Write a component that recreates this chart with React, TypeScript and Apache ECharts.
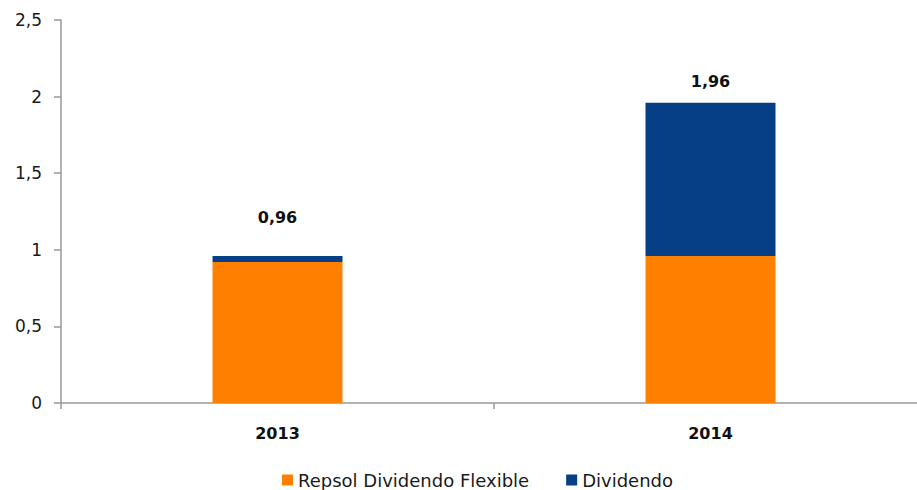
import React, { useEffect, useRef } from "react";
import * as echarts from "echarts";

const categories = ["2013", "2014"];
const flexibleValues = [0.92, 0.96];
const dividendValues = [0.04, 1.0];
const totalLabels = ["0,96", "1,96"];
const labelDistances = [30, 13];
const seriesNames = ["Repsol Dividendo Flexible", "Dividendo"];

const FONT = "'DejaVu Sans', Verdana, sans-serif";

export default function App() {
  const ref = useRef<HTMLDivElement>(null);
  useEffect(() => {
    document.body.style.overflow = "hidden";
    const chart = echarts.init(ref.current!, null, { renderer: "svg" });
    chart.setOption({
      animation: false,
      textStyle: { fontFamily: FONT },
      grid: { left: 61, top: 20, bottom: 87, right: 13 },
      legend: {
        left: 277,
        top: 466,
        itemWidth: 11,
        itemHeight: 11,
        itemGap: 37,
        icon: "rect",
        textStyle: { fontFamily: FONT, fontSize: 18, color: "#1a1a1a" },
        data: seriesNames,
      },
      xAxis: {
        type: "category",
        data: categories,
        axisLine: { lineStyle: { color: "#999", width: 1.5 } },
        axisTick: { show: true, length: 6, lineStyle: { color: "#999", width: 1.5 } },
        axisLabel: {
          fontFamily: FONT,
          fontSize: 16,
          fontWeight: "bold",
          color: "#111",
          margin: 22,
        },
      },
      yAxis: {
        type: "value",
        min: 0,
        max: 2.5,
        interval: 0.5,
        splitLine: { show: false },
        axisLine: { show: true, lineStyle: { color: "#999", width: 1.5 } },
        axisTick: { show: true, length: 7, lineStyle: { color: "#999", width: 1.5 } },
        axisLabel: {
          fontFamily: FONT,
          fontSize: 17,
          color: "#1a1a1a",
          margin: 19,
          formatter: (v: number) => String(v).replace(".", ","),
        },
      },
      series: [
        {
          name: seriesNames[0],
          type: "bar",
          stack: "total",
          barWidth: 130,
          itemStyle: { color: "#FF8000" },
          data: flexibleValues,
        },
        {
          name: seriesNames[1],
          type: "bar",
          stack: "total",
          barWidth: 130,
          itemStyle: { color: "#073F87" },
          data: dividendValues.map((v, i) => ({
            value: v,
            label: {
              show: true,
              position: "top",
              distance: labelDistances[i],
              formatter: () => totalLabels[i],
              fontFamily: FONT,
              fontSize: 16,
              fontWeight: "bold",
              color: "#111",
            },
          })),
        },
      ],
    });
    return () => chart.dispose();
  }, []);
  return (
    <div
      ref={ref}
      style={{ position: "fixed", left: 0, top: 0, width: 940, height: 490, background: "#fff" }}
    />
  );
}
